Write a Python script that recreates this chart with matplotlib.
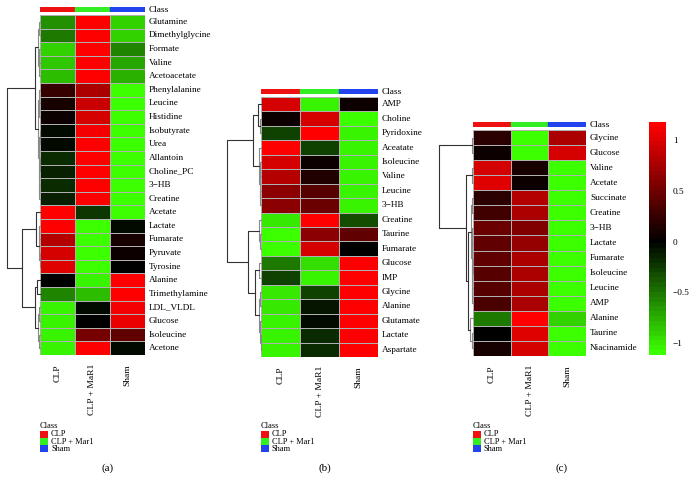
import numpy as np
import matplotlib
matplotlib.use('Agg')
import matplotlib.pyplot as plt
from matplotlib.colors import LinearSegmentedColormap, Normalize
from matplotlib.cm import ScalarMappable
from matplotlib.patches import Rectangle

# ---- data ----
groups = ['CLP', 'CLP + MaR1', 'Sham']
legend_names = ['CLP', 'CLP + Mar1', 'Sham']
class_colors = ['#EE1111', '#33EE22', '#2244EE']

rows_a = ['Glutamine', 'Dimethylglycine', 'Formate', 'Valine', 'Acetoacetate',
          'Phenylalanine', 'Leucine', 'Histidine', 'Isobutyrate', 'Urea',
          'Allantoin', 'Choline_PC', '3\u2212HB', 'Creatine', 'Acetate',
          'Lactate', 'Fumarate', 'Pyruvate', 'Tyrosine', 'Alanine',
          'Trimethylamine', 'LDL_VLDL', 'Glucose', 'Isoleucine', 'Acetone']
vals_a = [[-0.6, 1.15, -0.9], [-0.5, 1.15, -0.9], [-0.9, 1.15, -0.55],
          [-0.85, 1.15, -0.7], [-0.8, 1.15, -0.75], [0.25, 0.75, -1.1],
          [0.1, 0.9, -1.1], [0.05, 0.95, -1.1], [-0.05, 1.1, -1.1],
          [-0.05, 1.15, -1.1], [-0.2, 1.15, -1.1], [-0.12, 1.15, -1.1],
          [-0.2, 1.15, -1.1], [-0.15, 1.15, -1.1], [1.15, -0.25, -1.1],
          [1.15, -1.1, -0.05], [0.8, -1.1, 0.1], [0.95, -1.1, 0.05],
          [1.0, -1.1, 0.0], [0.0, -1.05, 1.15], [-0.55, -0.8, 1.15],
          [-1.05, -0.03, 1.1], [-1.05, 0.0, 1.05], [-1.05, 0.55, 0.45],
          [-1.05, 1.15, -0.05]]
tree_a = [[[[0, 1, 0.8], [[2, 3, 0.6], 4, 1.0], 1.6],
           [[5, [6, 7, 0.6], 1.2], [[8, 9, 0.5], [[10, 11, 0.5], [12, 13, 0.6], 0.9], 1.3], 2.2],
           5.5],
          [[14, [[15, 16, 0.7], [17, 18, 0.5], 1.2], 4.0],
           [[19, 20, 3.5], [[21, 22, 1.0], [23, 24, 1.2], 2.0], 5.0],
           18.0],
          33.0]

rows_b = ['AMP', 'Choline', 'Pyridoxine', 'Aceatate', 'Isoleucine', 'Valine',
          'Leucine', '3\u2212HB', 'Creatine', 'Taurine', 'Fumarate', 'Glucose',
          'IMP', 'Glycine', 'Alanine', 'Glutamate', 'Lactate', 'Aspartate']
vals_b = [[0.95, -1.05, 0.05], [0.05, 0.95, -1.1], [-0.3, 1.15, -1.05],
          [1.15, -0.3, -1.05], [0.95, 0.05, -1.05], [0.8, 0.15, -1.05],
          [0.65, 0.4, -1.05], [0.65, 0.5, -1.05], [-1.0, 1.15, -0.35],
          [-1.1, 0.65, 0.45], [-1.1, 0.95, 0.0], [-0.5, -0.95, 1.15],
          [-0.3, -1.05, 1.15], [-1.0, -0.3, 1.15], [-1.0, -0.1, 1.15],
          [-1.05, -0.05, 1.15], [-1.05, -0.2, 1.15], [-1.05, -0.2, 1.15]]
tree_b = [[[0, [1, 2, 1.5], 3.5], [3, [[4, 5, 1.0], [6, 7, 0.6], 1.5], 2.5], 8.0],
          [[8, [9, 10, 1.0], 2.0],
           [[11, 12, 2.0], [[13, 14, 1.0], [15, [16, 17, 0.5], 1.0], 2.0], 6.0],
           13.0],
          34.0]

rows_c = ['Glycine', 'Glucose', 'Valine', 'Acetate', 'Succinate', 'Creatine',
          '3\u2212HB', 'Lactate', 'Fumarate', 'Isoleucine', 'Leucine', 'AMP',
          'Alanine', 'Taurine', 'Niacinamide']
vals_c = [[0.2, -1.1, 0.75], [0.03, -1.1, 0.95], [0.95, 0.1, -1.1],
          [1.0, 0.03, -1.1], [0.2, 0.8, -1.1], [0.3, 0.75, -1.1],
          [0.5, 0.6, -1.1], [0.45, 0.7, -1.1], [0.45, 0.75, -1.1],
          [0.4, 0.75, -1.1], [0.4, 0.75, -1.1], [0.35, 0.75, -1.1],
          [-0.5, 1.15, -0.9], [0.0, 1.0, -1.1], [0.1, 0.95, -1.1]]
tree_c = [[0, 1, 1.0],
          [[2, 3, 1.0],
           [[[4, 5, 0.8], [[6, 7, 0.5], [[8, 9, 0.4], [10, 11, 0.5], 0.7], 1.0], 1.5],
            [12, [13, 14, 1.0], 2.5], 5.0],
           7.0],
          33.0]

cbar_ticks = [-1, -0.5, 0, 0.5, 1]
cbar_labels = ['\u22121', '\u22120.5', '0', '0.5', '1']

# ---- figure ----
W, H = 694, 490
fig = plt.figure(figsize=(W / 100, H / 100), dpi=100)
plt.rcParams['font.family'] = ['Liberation Serif', 'DejaVu Serif']

vmin, vmax = -1.12, 1.18
mid = -vmin / (vmax - vmin)
cmap = LinearSegmentedColormap.from_list(
    'gbr', [(0, '#3CFF00'), (mid, '#000000'), (1, '#FF0000')], N=48)
norm = Normalize(vmin, vmax)


def ax_px(x0, y0, x1, y1):
    a = fig.add_axes([x0 / W, 1 - y1 / H, (x1 - x0) / W, (y1 - y0) / H])
    a.set_axis_off()
    return a


def draw_tree(ax, node):
    if isinstance(node, int):
        return node + 0.5, 0.0
    left, right, h = node
    y1, h1 = draw_tree(ax, left)
    y2, h2 = draw_tree(ax, right)
    c = '#333333' if h > 3 else '#8a8a8a'
    ax.plot([h1, h, h, h2], [y1, y1, y2, y2], color=c, lw=0.8, clip_on=False)
    return (y1 + y2) / 2, h


def panel(rows, vals, tree, hx0, hx1, hy0, hy1, dx0, label, lx):
    n = len(rows)
    # class bar
    cb = ax_px(hx0, hy0 - 8, hx1, hy0 - 3)
    for i, c in enumerate(class_colors):
        cb.add_patch(Rectangle((i, 0), 1, 1, color=c))
    cb.set_xlim(0, 3)
    cb.set_ylim(0, 1)
    fig.text((hx1 + 4) / W, 1 - (hy0 - 5.5) / H, 'Class', fontsize=6.7,
             va='center', ha='left')

    # heatmap
    hm = ax_px(hx0, hy0, hx1, hy1)
    hm.pcolormesh(np.array(vals), cmap=cmap, norm=norm,
                  edgecolors='#b0b0b0', linewidth=0.5)
    hm.set_xlim(0, 3)
    hm.set_ylim(n, 0)
    rh = (hy1 - hy0) / n
    for i, r in enumerate(rows):
        fig.text((hx1 + 4) / W, 1 - (hy0 + (i + 0.5) * rh) / H, r,
                 fontsize=6.7, va='center', ha='left')
    cw = (hx1 - hx0) / 3
    for j, g in enumerate(groups):
        fig.text((hx0 + (j + 0.5) * cw) / W, 1 - (hy1 + 9) / H, g,
                 fontsize=6.8, rotation=90, va='top', ha='center')

    # dendrogram
    dg = ax_px(dx0, hy0, hx0, hy1)
    draw_tree(dg, tree)
    dg.set_xlim(tree[2], 0)
    dg.set_ylim(n, 0)

    # legend
    fig.text(hx0 / W, 1 - 426 / H, 'Class', fontsize=6, va='center', ha='left')
    for i, (c, t) in enumerate(zip(class_colors, legend_names)):
        y0 = 430.5 + i * 7.3
        lg = ax_px(hx0, y0, hx0 + 8, y0 + 7.3)
        lg.add_patch(Rectangle((0, 0), 1, 1, color=c))
        lg.set_xlim(0, 1)
        lg.set_ylim(0, 1)
        fig.text((hx0 + 11) / W, 1 - (y0 + 3.8) / H, t, fontsize=6,
                 va='center', ha='left')

    fig.text(lx / W, 1 - 468 / H, label, fontsize=8, va='center', ha='center')


panel(rows_a, vals_a, tree_a, 40, 145, 15, 355, 7, '(a)', 108)
panel(rows_b, vals_b, tree_b, 261, 378, 97, 357, 227, '(b)', 325)
panel(rows_c, vals_c, tree_c, 473, 586, 130, 356, 439, '(c)', 562)

# colorbar
cax = fig.add_axes([649 / W, 1 - 355 / H, 17 / W, 233 / H])
cbar = fig.colorbar(ScalarMappable(norm=norm, cmap=cmap), cax=cax, ticks=cbar_ticks)
cbar.ax.set_yticklabels(cbar_labels)
cbar.ax.tick_params(length=0, labelsize=6.7, pad=5)
cbar.outline.set_visible(False)

fig.savefig('out.png', dpi=100)
